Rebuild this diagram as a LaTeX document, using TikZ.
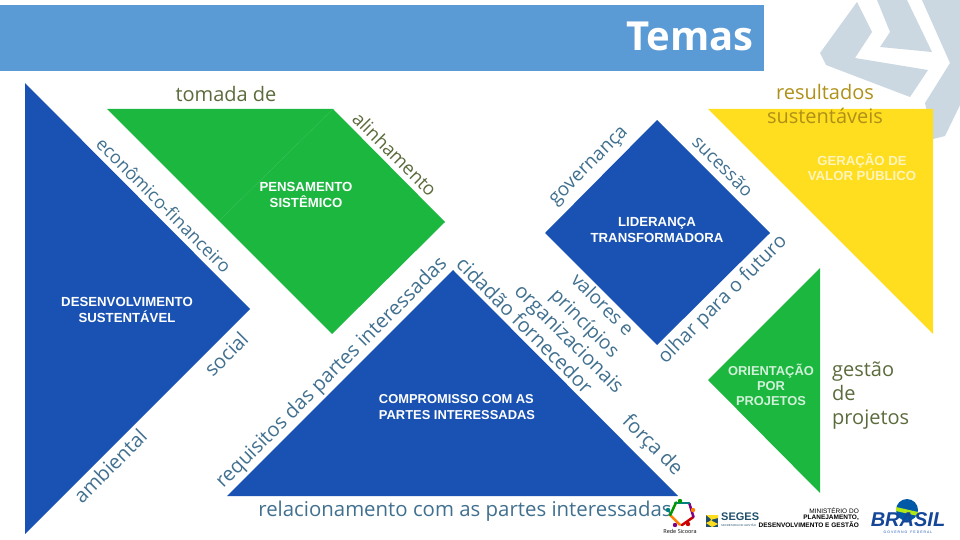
\documentclass[tikz,border=0pt]{standalone}
\usepackage{fontspec}
\setmainfont{Open Sans}
\newfontfamily\arialfont{Liberation Sans}
\definecolor{barblue}{HTML}{5B9BD5}
\definecolor{logogrey}{HTML}{CBD8E1}
\definecolor{tanblue}{HTML}{1952B3}
\definecolor{tangreen}{HTML}{1BB73F}
\definecolor{tanyellow}{HTML}{FFDD1F}
\definecolor{labelblue}{HTML}{41708F}
\definecolor{labelolive}{HTML}{5B6B3C}
\definecolor{labelgold}{HTML}{AF9018}
\definecolor{segesnavy}{HTML}{1F4F6B}
\tikzset{
  tema/.style={text=labelblue, inner sep=0pt, font=\fontsize{20}{20}\selectfont},
  caixa/.style={text=white, align=center, inner sep=0pt, font=\arialfont\bfseries\fontsize{13.2}{15.3}\selectfont},
  titulo/.style={inner sep=0pt, font=\fontsize{20}{24}\selectfont}
}
\begin{document}
\begin{tikzpicture}[x=1pt,y=-1pt]
\useasboundingbox (0,0) rectangle (960,540);

% grey mark behind the corner
\fill[logogrey] (857,2) -- (820,53) -- (826,65) -- (910,97) -- (928,70) -- (855,58) -- (872,32) -- cycle;
\fill[logogrey] (877,0) -- (890,32) -- (880,47) -- (932,52) -- (907,0) -- cycle;
\fill[logogrey] (922,0) -- (950,63) -- (925,103) -- (933,139) -- (945,136) -- (960,105) -- (960,0) -- cycle;

% title bar
\fill[barblue] (0,5) rectangle (764,71);
\node[text=white, inner sep=0pt, font=\bfseries\fontsize{40}{40}\selectfont] (temas) at (690,36) {Temas};

% tangram pieces
\fill[tanblue] (25,83) -- (250,309) -- (25,534) -- cycle;
\fill[tangreen] (107,109) -- (333,109) -- (445,222) -- (332,334) -- cycle;
\draw[tangreen!80!white, very thin] (333,109) -- (220,220);
\fill[tanblue] (453,270) -- (678,496) -- (227,496) -- cycle;
\fill[tanblue] (657,120) -- (770,233) -- (657,345) -- (545,233) -- cycle;
\fill[tanyellow] (708,109) -- (933,109) -- (933,334) -- cycle;
\fill[tangreen] (820,268) -- (820,493) -- (708,380) -- cycle;

% piece names
\node[caixa] (pensamento) at (306,195) {PENSAMENTO\\SISTÊMICO};
\node[caixa] (desenvolvimento) at (127,310) {DESENVOLVIMENTO\\SUSTENTÁVEL};
\node[caixa] (lideranca) at (657,230) {LIDERANÇA\\TRANSFORMADORA};
\node[caixa, text=white!70!tanyellow] (geracao) at (862,167) {GERAÇÃO DE\\VALOR PÚBLICO};
\node[caixa, align=left, font=\arialfont\bfseries\fontsize{12.9}{15.3}\selectfont] (compromisso) at (457,407) {COMPROMISSO COM AS\\PARTES INTERESSADAS};
\node[caixa, text=white!80!tangreen, font=\arialfont\bfseries\fontsize{12.9}{15.3}\selectfont] (orientacao) at (771,385) {ORIENTAÇÃO\\POR\\PROJETOS};

% labels along the edges
\node[tema, rotate=-45, font=\fontsize{18}{18}\selectfont] (economico) at (164,205) {econômico-financeiro};
\node[tema, rotate=-45, text=labelolive, font=\fontsize{18.6}{18}\selectfont] (alinhamento) at (395,154) {alinhamento};
\node[tema, rotate=45, font=\fontsize{19}{18}\selectfont] (governanca) at (590,167) {governança};
\node[tema, rotate=-45, font=\fontsize{18.2}{18}\selectfont] (sucessao) at (723,166) {sucessão};
\node[tema, rotate=45, font=\fontsize{19.5}{18}\selectfont] (olhar) at (723,300) {olhar para o futuro};
\node[tema, rotate=-45, font=\fontsize{19}{18}\selectfont] (valores) at (603,304) {valores e};
\node[tema, rotate=-45, font=\fontsize{19.3}{18}\selectfont] (principios) at (584,324) {princípios};
\node[tema, rotate=-45] (organizacionais) at (568,340) {organizacionais};
\node[tema, rotate=-45] (cidadao) at (525,325) {cidadão fornecedor};
\node[tema, rotate=-45] (forca) at (652,446) {força de};
\node[tema, rotate=45] (social) at (226,354) {social};
\node[tema, rotate=45] (ambiental) at (110,466) {ambiental};
\node[tema, rotate=45] (requisitos) at (332,373) {requisitos das partes interessadas};

% labels on the flat sides
\node[titulo, text=labelolive] (tomada) at (226,94) {tomada de};
\node[titulo, text=labelgold] (resultados) at (825,92) {resultados};
\node[titulo, text=labelgold] (sustentaveis) at (825,116) {sustentáveis};
\node[titulo, text=labelolive, align=left, anchor=north west] (gestao) at (832,362) {gestão\\de\\projetos};
\node[titulo, text=labelblue, font=\fontsize{20.4}{24}\selectfont] (relacionamento) at (465,511) {relacionamento com as partes interessadas};

% logos
\foreach \ang/\cor in {100/orange,20/red!80!black,-52/violet,-125/teal,170/green!60!black}
  \draw[\cor, line width=2.5pt, line cap=round] (\ang:12) ++(682,513) -- ++(\ang+125:14);
\foreach \xy/\cor in {{680,501}/green!60!black,{693,510}/orange,{688,524}/red!80!black,{675,525}/violet,{668,510}/teal}
  \fill[\cor] (\xy) circle (2.2);
\node[inner sep=0pt, font=\fontsize{5.5}{6}\selectfont] (rede) at (680,531) {Rede Sicoora};
\fill[segesnavy] (706,515) rectangle (718,527);
\fill[tanyellow] (706,515) -- (718,515) -- (718,518) -- (710,520) -- (718,524) -- (712,527) -- (706,523) -- (712,520) -- cycle;
\node[inner sep=0pt, text=segesnavy, font=\arialfont\bfseries\fontsize{11}{11}\selectfont, anchor=west] (seges) at (721,517) {SEGES};
\node[inner sep=0pt, text=segesnavy, font=\arialfont\fontsize{2.8}{3}\selectfont, anchor=west] (secretaria) at (721,525) {SECRETARIA DE GESTÃO};
\node[inner sep=0pt, font=\arialfont\fontsize{6.5}{7}\selectfont, align=right, anchor=east] (ministerio) at (859,511) {MINISTÉRIO DO};
\node[inner sep=0pt, font=\arialfont\bfseries\fontsize{6.5}{7}\selectfont, anchor=east] (planejamento) at (859,518) {PLANEJAMENTO,};
\node[inner sep=0pt, font=\arialfont\bfseries\fontsize{6.5}{7}\selectfont, anchor=east] (desenv) at (859,525) {DESENVOLVIMENTO E GESTÃO};
\fill[teal!70!blue] (907,510) circle (11);
\fill[tanyellow!70!green] (896,507) -- (918,512) -- (918,516) -- (896,511) -- cycle;
\node[inner sep=0pt, text=tanblue!85!black, font=\arialfont\bfseries\itshape\fontsize{20}{20}\selectfont] (brasil) at (908,520) {BRASIL};
\node[inner sep=0pt, text=tanblue, font=\arialfont\fontsize{3.5}{4}\selectfont] (governo) at (908,532) {G O V E R N O \ \ F E D E R A L};

\end{tikzpicture}
\end{document}
